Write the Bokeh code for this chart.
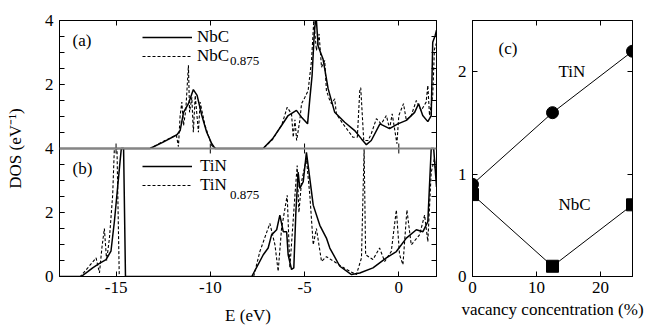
from bokeh.plotting import figure
from bokeh.models import (Range1d, LinearAxis, FixedTicker, Span, Label, Legend, LegendItem,
                          CustomLabelingPolicy)
from bokeh.layouts import row
from bokeh.embed import file_html
from bokeh.resources import INLINE

FONT = "Liberation Serif"

# ---------------- data ----------------
# (a) NbC / NbC0.875 DOS
nbc_e = [-18.0, -13.2, -12.5, -11.77, -11.6, -11.42, -11.16, -10.9, -10.7, -10.45, -10.19, -9.92, -9.75,
         -7.2, -6.7, -6.22, -5.87, -5.43, -5.16, -4.84, -4.72, -4.6, -4.49, -4.42, -4.37, -4.28, -4.02,
         -3.75, -3.4, -2.87, -2.34, -1.98, -1.72, -1.46, -1.0, -0.49, -0.05, 0.4, 0.84, 1.05, 1.27, 1.54,
         1.72, 1.8, 1.93, 2.0]
nbc_d = [0, 0, 0.2, 0.43, 0.56, 1.13, 1.4, 1.84, 1.66, 1.03, 0.51, 0.15, 0,
         0, 0.3, 0.72, 1.03, 1.19, 0.98, 0.77, 1.55, 2.28, 3.53, 4.0, 4.0, 3.2, 2.8,
         1.87, 1.13, 0.82, 0.56, 0.3, 0.12, 0.25, 0.77, 0.62, 0.77, 0.88, 1.13, 1.4, 1.03, 0.84,
         1.03, 3.32, 3.53, 3.7]

nbc875_e = [-18.0, -13.2, -12.5, -11.8, -11.69, -11.6, -11.51, -11.42, -11.3, -11.16, -11.1, -10.98, -10.9,
            -10.8, -10.63, -10.54, -10.28, -9.92, -9.7, -7.2, -6.7, -6.2, -5.92, -5.69, -5.6, -5.51, -5.42,
            -5.25, -5.16, -4.98, -4.81, -4.63, -4.51, -4.37, -4.23, -4.1, -3.93, -3.84, -3.66, -3.57, -3.4,
            -3.31, -2.96, -2.43, -2.2, -2.07, -2.02, -1.93, -1.86, -1.63, -1.46, -1.19, -0.93, -0.66, -0.49,
            -0.35, -0.1, 0.0, 0.25, 0.4, 0.66, 0.93, 1.19, 1.45, 1.54, 1.63, 1.8, 1.89, 2.0]
nbc875_d = [0, 0, 0.22, 0.42, 0.06, 1.03, 1.45, 0.72, 1.2, 2.6, 1.13, 1.6, 0.51,
            1.66, 0.51, 1.45, 0.72, 0.09, 0, 0, 0.28, 0.75, 1.29, 1.08, 0.35, 0.9, 0.25,
            0.88, 1.4, 1.6, 1.81, 2.75, 4.0, 3.06, 3.58, 2.54, 2.75, 1.81, 1.5, 1.4, 1.55,
            1.08, 0.77, 0.35, 0.35, 1.81, 1.9, 0.98, 0.25, 0.25, 0.46, 0.93, 0.77, 1.03, 0.62,
            1.08, 0.15, 1.03, 1.4, 0.88, 1.03, 1.5, 1.19, 1.45, 1.97, 1.03, 1.66, 3.1, 3.3]

# (b) TiN / TiN0.875 DOS
tin_e = [-18.0, -16.85, -16.5, -16.24, -15.9, -15.53, -15.27, -15.09, -14.92, -14.79, -14.72, -14.6, -14.5,
         -7.8, -7.19, -6.93, -6.75, -6.48, -6.31, -6.13, -5.95, -5.87, -5.69, -5.57, -5.46, -5.34, -5.25,
         -5.07, -4.9, -4.81, -4.54, -4.19, -3.84, -3.66, -3.13, -2.51, -2.07, -1.37, -0.66, -0.13, 0.4,
         0.93, 1.28, 1.54, 1.72, 1.85, 2.0]
tin_d = [0, 0, 0.15, 0.27, 0.4, 0.53, 0.79, 1.71, 2.76, 3.58, 4.0, 4.0, 0,
         0, 0.68, 0.89, 1.3, 1.46, 1.92, 1.4, 1.4, 0.68, 0.22, 0.27, 2.02, 3.26, 2.75,
         2.96, 3.88, 3.47, 2.23, 1.6, 1.2, 0.89, 0.32, 0.06, 0.11, 0.27, 0.58, 0.78, 1.2,
         1.46, 1.4, 1.71, 4.0, 4.0, 2.8]

tin875_e = [-18.0, -16.9, -16.5, -16.06, -15.88, -15.75, -15.62, -15.5, -15.35, -15.18, -15.09, -14.95,
            -14.83, -14.7, -7.7, -7.37, -6.84, -6.57, -6.4, -6.22, -5.92, -5.78, -5.51, -5.39, -5.3, -5.16,
            -4.9, -4.72, -4.54, -4.37, -4.1, -3.84, -3.31, -2.78, -2.25, -1.98, -1.84, -1.76, -1.37, -1.02,
            -0.75, -0.4, -0.13, 0.04, 0.22, 0.43, 0.66, 1.1, 1.37, 1.54, 1.72, 1.89, 2.0]
tin875_d = [0, 0, 0.27, 0.58, 0.11, 0.9, 1.5, 0.5, 1.2, 2.54, 4.0, 4.0,
            0, 0, 0, 0.78, 1.66, 0.99, 0.16, 1.5, 2.54, 0.27, 2.54, 3.47, 2.0, 2.96,
            3.68, 2.54, 0.99, 1.5, 0.47, 0.62, 0.42, 0.22, 0.06, 0.58, 4.0, 0.68, 0.53, 0.89,
            0.47, 0.78, 2.08, 0.68, 0.37, 2.08, 0.99, 1.3, 1.92, 1.09, 3.26, 3.68, 3.0]

# (c) vacancy concentration
vac = [0, 12.5, 25]
tin_c = [0.9, 1.6, 2.2]
nbc_c = [0.8, 0.1, 0.7]

e_ticks = [-15, -10, -5, 0]
dos_ticks = [0, 2, 4, 6, 8]
dos_tick_labels = {0: "0", 2: "2", 4: "4", 6: "2", 8: "4"}
dos_minor = [0.5 * i for i in range(1, 16)]
vac_ticks = [0, 10, 20]
c_ticks = [0, 1, 2]

PX_PER_DOS = 257 / 8.0   # frame pixels per DOS unit in the left panel
TICK_PX = 5


def style_axis(ax, ticks, minor, labels=True, overrides=None, standoff=6):
    ax.ticker = FixedTicker(ticks=ticks, minor_ticks=minor)
    ax.major_tick_in = TICK_PX
    ax.major_tick_out = 0
    ax.minor_tick_in = TICK_PX
    ax.minor_tick_out = 0
    ax.axis_line_color = "black"
    ax.major_tick_line_color = "black"
    ax.minor_tick_line_color = "black"
    ax.major_label_text_font = FONT
    ax.major_label_text_color = "black"
    ax.major_label_text_line_height = 1.0
    ax.axis_label_text_font = FONT
    ax.axis_label_text_font_size = "17px"
    ax.axis_label_text_font_style = "normal"
    ax.axis_label_text_color = "black"
    ax.axis_label_text_line_height = 1.0
    if labels:
        ax.major_label_text_font_size = "17px"
        ax.major_label_standoff = standoff
    else:
        ax.major_label_text_font_size = "0px"
        ax.major_label_standoff = 0
        ax.major_label_policy = CustomLabelingPolicy(code="return []")
    if overrides:
        ax.major_label_overrides = overrides


def txt(fig, x, y, s, size="17px", align="left"):
    fig.add_layout(Label(x=x, y=y, text=s, text_font=FONT, text_font_size=size,
                         text_align=align, text_baseline="middle", text_color="black"))


def legend(items, loc, standoff, baseline):
    return Legend(items=items, location=loc, glyph_width=50, glyph_height=20, label_height=20,
                  label_standoff=standoff, padding=0, margin=0, spacing=0,
                  border_line_color=None, background_fill_alpha=0,
                  label_text_font=FONT, label_text_font_size="17px", label_text_color="black",
                  label_text_baseline=baseline)


# ---------------- left figure: (a) over (b) ----------------
p = figure(width=448, height=328, x_range=Range1d(-18, 2), y_range=Range1d(0, 8),
           output_backend="svg", toolbar_location=None,
           min_border_left=59, min_border_right=12, min_border_top=20, min_border_bottom=51)
p.extra_y_ranges = {"a": Range1d(-4, 4)}
p.grid.visible = False
p.outline_line_color = "black"
p.background_fill_color = "white"
p.border_fill_color = "white"

style_axis(p.below[0], e_ticks, [], True, {-15: "-15", -10: "-10", -5: "-5", 0: "0"}, standoff=5)
p.below[0].axis_label = "E (eV)"
p.below[0].axis_label_standoff = 10
style_axis(p.left[0], dos_ticks, dos_minor, True, dos_tick_labels)
p.left[0].axis_label = "DOS (eV\u207b\u00b9)"
p.left[0].axis_label_standoff = 17
top_ax = LinearAxis()
style_axis(top_ax, e_ticks, [], False)
p.add_layout(top_ax, "above")
right_ax = LinearAxis()
style_axis(right_ax, dos_ticks, dos_minor, False)
p.add_layout(right_ax, "right")

r_nbc = p.line(nbc_e, nbc_d, y_range_name="a", line_color="black", line_width=1.5)
r_nbc875 = p.line(nbc875_e, nbc875_d, y_range_name="a", line_color="black", line_width=1.1,
                  line_dash="3 2")
r_tin = p.line(tin_e, tin_d, line_color="black", line_width=1.5)
r_tin875 = p.line(tin875_e, tin875_d, line_color="black", line_width=1.1, line_dash="3 2")

# boundary between (a) and (b), with the energy ticks drawn across it
p.add_layout(Span(location=4, dimension="width", line_color="#858585", line_width=2))
d = TICK_PX / PX_PER_DOS
p.segment(x0=e_ticks, y0=[4 - d] * len(e_ticks), x1=e_ticks, y1=[4 + d] * len(e_ticks),
          line_color="black", line_width=1)

p.add_layout(legend([LegendItem(label="NbC", renderers=[r_nbc])], (83, 229), 5, "middle"))
p.add_layout(legend([LegendItem(label="NbC", renderers=[r_nbc875])], (83, 210), 5, "alphabetic"))
p.add_layout(legend([LegendItem(label="TiN", renderers=[r_tin])], (83, 100), 8, "middle"))
p.add_layout(legend([LegendItem(label="TiN", renderers=[r_tin875])], (83, 81), 8, "alphabetic"))

txt(p, -17.31, 7.38, "(a)")
txt(p, -8.95, 6.72, "0.875", size="13px")
txt(p, -17.31, 3.39, "(b)")
txt(p, -8.95, 2.55, "0.875", size="13px")

# ---------------- right figure: (c) ----------------
pc = figure(width=197, height=328, x_range=Range1d(0, 25), y_range=Range1d(0, 2.5),
            output_backend="svg", toolbar_location=None,
            min_border_left=24, min_border_right=13, min_border_top=20, min_border_bottom=52)
pc.grid.visible = False
pc.outline_line_color = "black"
pc.background_fill_color = "white"
pc.border_fill_color = "white"
style_axis(pc.below[0], vac_ticks, [], True, standoff=5)
pc.below[0].axis_label = "vacancy concentration (%)"
pc.below[0].axis_label_standoff = 4
style_axis(pc.left[0], c_ticks, [], True)
top_c = LinearAxis()
style_axis(top_c, vac_ticks, [], False)
pc.add_layout(top_c, "above")
right_c = LinearAxis()
style_axis(right_c, c_ticks, [], False)
pc.add_layout(right_c, "right")

pc.line(vac, tin_c, line_color="black", line_width=1)
pc.scatter(vac, tin_c, marker="circle", size=12, color="black")
pc.line(vac, nbc_c, line_color="black", line_width=1)
pc.scatter(vac, nbc_c, marker="square", size=12, color="black")

txt(pc, 4.06, 2.23, "(c)")
txt(pc, 13.44, 2.0, "TiN")
txt(pc, 13.44, 0.70, "NbC")

layout = row(p, pc)
open("out.html", "w").write(file_html(layout, INLINE))
